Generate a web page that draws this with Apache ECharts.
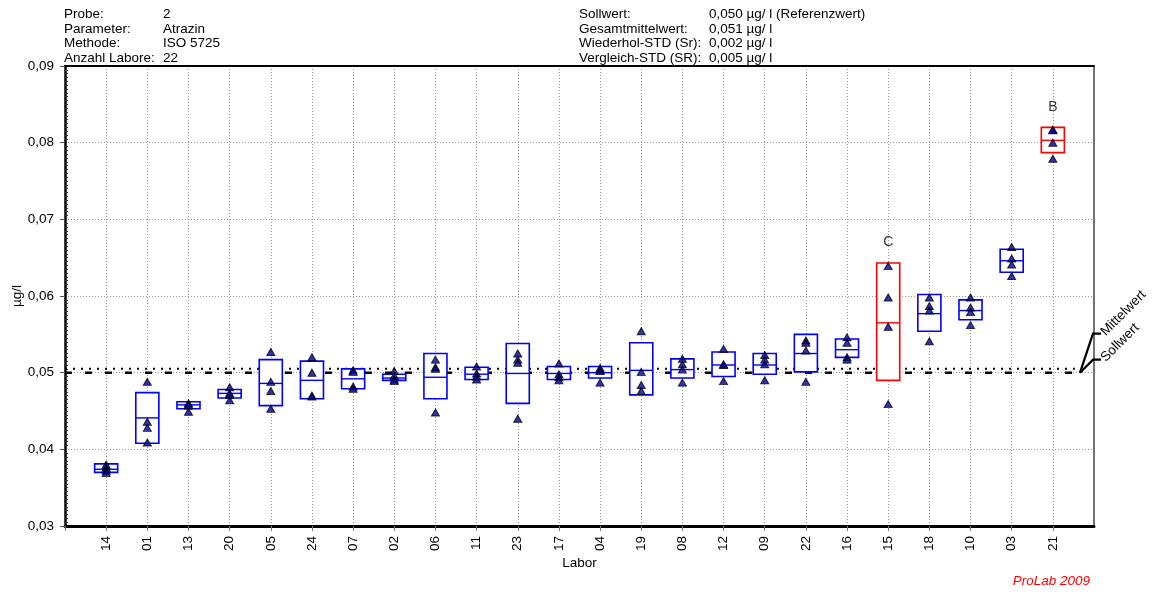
<!DOCTYPE html>
<html><head><meta charset="utf-8">
<script src="https://cdn.jsdelivr.net/npm/echarts@6/dist/echarts.min.js"></script>
<style>html,body{margin:0;padding:0;background:#fff}#c{width:1167px;height:594px}</style>
</head><body><div id="c"></div>
<script>
// ---- data ----
const labs = ['14','01','13','20','05','24','07','02','06','11','23','17','04','19','08','12','09','22','16','15','18','10','03','21'];
const boxLow  = [0.0370,0.0408,0.0453,0.0467,0.0457,0.0466,0.0479,0.0490,0.0466,0.0491,0.0460,0.0491,0.0493,0.0471,0.0493,0.0495,0.0498,0.0501,0.0520,0.0490,0.0554,0.0569,0.0631,0.0787];
const boxMean = [0.0374,0.0441,0.0458,0.0473,0.0486,0.0490,0.0492,0.0493,0.0494,0.0498,0.0499,0.0499,0.0500,0.0503,0.0504,0.0510,0.0510,0.0525,0.0530,0.0565,0.0577,0.0581,0.0646,0.0803];
const boxHigh = [0.0381,0.0474,0.0462,0.0478,0.0517,0.0515,0.0505,0.0498,0.0525,0.0507,0.0538,0.0508,0.0508,0.0539,0.0518,0.0527,0.0525,0.0550,0.0544,0.0643,0.0602,0.0595,0.0661,0.0820];
const results = [
  [0.0380,0.0376,0.0372,0.0369],
  [0.0488,0.0436,0.0428,0.0409],
  [0.0460,0.0458,0.0457,0.0449],
  [0.0481,0.0473,0.0471,0.0464],
  [0.0527,0.0488,0.0476,0.0453],
  [0.0520,0.0500,0.0470,0.0469],
  [0.0503,0.0501,0.0482,0.0479],
  [0.0502,0.0496,0.0491,0.0489],
  [0.0517,0.0507,0.0505,0.0448],
  [0.0508,0.0499,0.0495,0.0491],
  [0.0525,0.0517,0.0513,0.0440],
  [0.0512,0.0498,0.0494,0.0490],
  [0.0506,0.0503,0.0502,0.0487],
  [0.0554,0.0501,0.0484,0.0476],
  [0.0518,0.0511,0.0504,0.0487],
  [0.0531,0.0511,0.0510,0.0489],
  [0.0523,0.0517,0.0511,0.0490],
  [0.0542,0.0539,0.0529,0.0488],
  [0.0546,0.0539,0.0520,0.0517],
  [0.0639,0.0598,0.0560,0.0459],
  [0.0598,0.0587,0.0581,0.0541],
  [0.0598,0.0585,0.0579,0.0562],
  [0.0664,0.0649,0.0641,0.0626],
  [0.0817,0.0816,0.0800,0.0779]
];
const flags = {'15':'C','21':'B'};
const sollwert = 0.050;
const mittelwert = 0.0505;
const yMin = 0.03, yMax = 0.09, yStep = 0.01;
const headerLeftLabels  = ['Probe:','Parameter:','Methode:','Anzahl Labore:'];
const headerLeftValues  = ['2','Atrazin','ISO 5725','22'];
const headerRightLabels = ['Sollwert:','Gesamtmittelwert:','Wiederhol-STD (Sr):','Vergleich-STD (SR):'];
const headerRightValues = ['0,050 µg/ l (Referenzwert)','0,051 µg/ l','0,002 µg/ l','0,005 µg/ l'];

// ---- chart ----
const FONT = '"Liberation Sans", Arial, sans-serif';
const FS = 13.5;
const chart = echarts.init(document.getElementById('c'), null, {renderer:'canvas'});
const positions = labs.map((_, i) => i + 1);
const nX = labs.length + 1;

const boxData = labs.map((l, i) => [i + 1, boxLow[i], boxMean[i], boxHigh[i]]);
const pointData = [];
results.forEach((arr, i) => arr.forEach(v => pointData.push([i + 1, v])));
const flagData = labs.map((l, i) => flags[l] ? {value: [i + 1, boxHigh[i]], name: flags[l]} : null).filter(Boolean);

const header = [];
function addRow(list, x, y0) {
  list.forEach((t, i) => header.push({type:'text', x: x, y: y0 + i * 14.6,
    style:{text: t, font: FS + 'px ' + FONT, fill:'#000', textVerticalAlign:'middle'}}));
}
addRow(headerLeftLabels, 64, 14.5);
addRow(headerLeftValues, 163, 14.5);
addRow(headerRightLabels, 579, 14.5);
addRow(headerRightValues, 709, 14.5);
header.push({type:'text', right: 77, top: 574,
  style:{text:'ProLab 2009', font:'italic ' + FS + 'px ' + FONT, fill:'#ff0000'}});

chart.setOption({
  animation: false,
  backgroundColor: '#fff',
  textStyle: {fontFamily: FONT},
  grid: {left: 65, right: 73, top: 66, bottom: 68, show: false},
  xAxis: [{
    type:'value', min:0, max:nX, interval:1, position:'bottom',
    name:'Labor', nameLocation:'middle', nameGap:30, nameMoveOverlap:false,
    nameTextStyle:{color:'#000', fontSize:FS, fontFamily:FONT},
    axisLine:{show:true, onZero:false, lineStyle:{color:'#000', width:3}},
    axisTick:{show:true, length:5, customValues: [0].concat(positions), lineStyle:{color:'#777', width:1}},
    axisLabel:{customValues: positions, rotate:90, margin:10, color:'#000', fontSize:FS, fontFamily:FONT,
      formatter: v => labs[Math.round(v) - 1] || ''},
    splitLine:{show:true, lineStyle:{type:[1,2], color:'#999', width:1}}
  },{
    type:'value', min:0, max:nX, position:'top',
    axisLine:{show:true, onZero:false, lineStyle:{color:'#000', width:2}},
    axisTick:{show:false}, axisLabel:{show:false}, splitLine:{show:false}
  }],
  yAxis: [{
    type:'value', min:yMin, max:yMax, interval:yStep,
    name:'µg/l', nameLocation:'middle', nameRotate:90, nameGap:41, nameMoveOverlap:false,
    nameTextStyle:{color:'#000', fontSize:FS, fontFamily:FONT},
    axisLine:{show:true, onZero:false, lineStyle:{color:'#000', width:2.5}},
    axisTick:{show:true, length:5, lineStyle:{color:'#555', width:1}},
    minorTick:{show:true, splitNumber:20, length:-3, lineStyle:{color:'#333', width:1}},
    axisLabel:{margin:11, color:'#000', fontSize:FS, fontFamily:FONT,
      formatter: v => v.toFixed(2).replace('.', ',')},
    splitLine:{show:true, lineStyle:{type:[1,2], color:'#999', width:1}}
  },{
    type:'value', min:yMin, max:yMax, position:'right',
    axisLine:{show:true, onZero:false, lineStyle:{color:'#444', width:1.5}},
    axisTick:{show:false}, axisLabel:{show:false}, splitLine:{show:false}
  }],
  graphic: header,
  series: [
    {type:'line', name:'Sollwert', z:1, symbol:'none', silent:true,
     data:[[0, sollwert],[labs.length + 0.64, sollwert]],
     lineStyle:{color:'#000', width:2.5, type:[7,13]}},
    {type:'line', name:'Mittelwert', z:1, symbol:'none', silent:true,
     data:[[0, mittelwert],[labs.length + 0.64, mittelwert]],
     lineStyle:{color:'#000', width:2, type:[2,6]}},
    {type:'custom', name:'box', z:2, data: boxData,
     encode:{x:0, y:[1,2,3]},
     renderItem: function (params, api) {
       const x = api.value(0);
       const lo = api.coord([x, api.value(1)]);
       const mu = api.coord([x, api.value(2)]);
       const hi = api.coord([x, api.value(3)]);
       const w = api.size([1, 0])[0] * 0.56;
       const col = flags[labs[params.dataIndex]] ? '#ff0000' : '#0000ff';
       return {type:'group', children:[
         {type:'rect', shape:{x: lo[0] - w/2, y: hi[1], width: w, height: lo[1] - hi[1]},
          style:{fill:'#fff', stroke: col, lineWidth:1.6}},
         {type:'line', shape:{x1: lo[0] - w/2, y1: mu[1], x2: lo[0] + w/2, y2: mu[1]},
          style:{stroke: col, lineWidth:1.4}}
       ]};
     }},
    {type:'scatter', name:'Werte', z:3, data: pointData, symbol:'triangle', symbolSize:[8,7],
     itemStyle:{color:'#0000a0', borderColor:'#000', borderWidth:1}},
    {type:'scatter', name:'flags', z:3, data: flagData, symbol:'circle', symbolSize:1, silent:true,
     itemStyle:{color:'rgba(0,0,0,0)'},
     label:{show:true, position:'top', distance:13, formatter: p => p.name, color:'#000', fontSize:14, fontFamily:FONT}}
  ]
});

// leader lines and labels for the reference lines (right side)
const pS = chart.convertToPixel({gridIndex:0}, [nX, sollwert]);
const xr = pS[0];
const x0 = xr - 14;
const yS = pS[1];
const leaders = [
  {txt:'Mittelwert', dy:-39},
  {txt:'Sollwert', dy:-13}
];
const extra = header.slice();
leaders.forEach(l => {
  const yl = yS + l.dy;
  extra.push({type:'polyline', shape:{points:[[x0, yS],[xr - 1, yl],[xr + 7, yl]]},
    style:{stroke:'#000', lineWidth:2.2, fill:null}, z:10});
  extra.push({type:'text', x: xr + 9, y: yl, rotation: Math.PI/4, z:10,
    style:{text:l.txt, font: FS + 'px ' + FONT, fill:'#000', textVerticalAlign:'middle', textAlign:'left'}});
});
chart.setOption({graphic: extra}, {replaceMerge:['graphic']});
</script>
</body></html>
